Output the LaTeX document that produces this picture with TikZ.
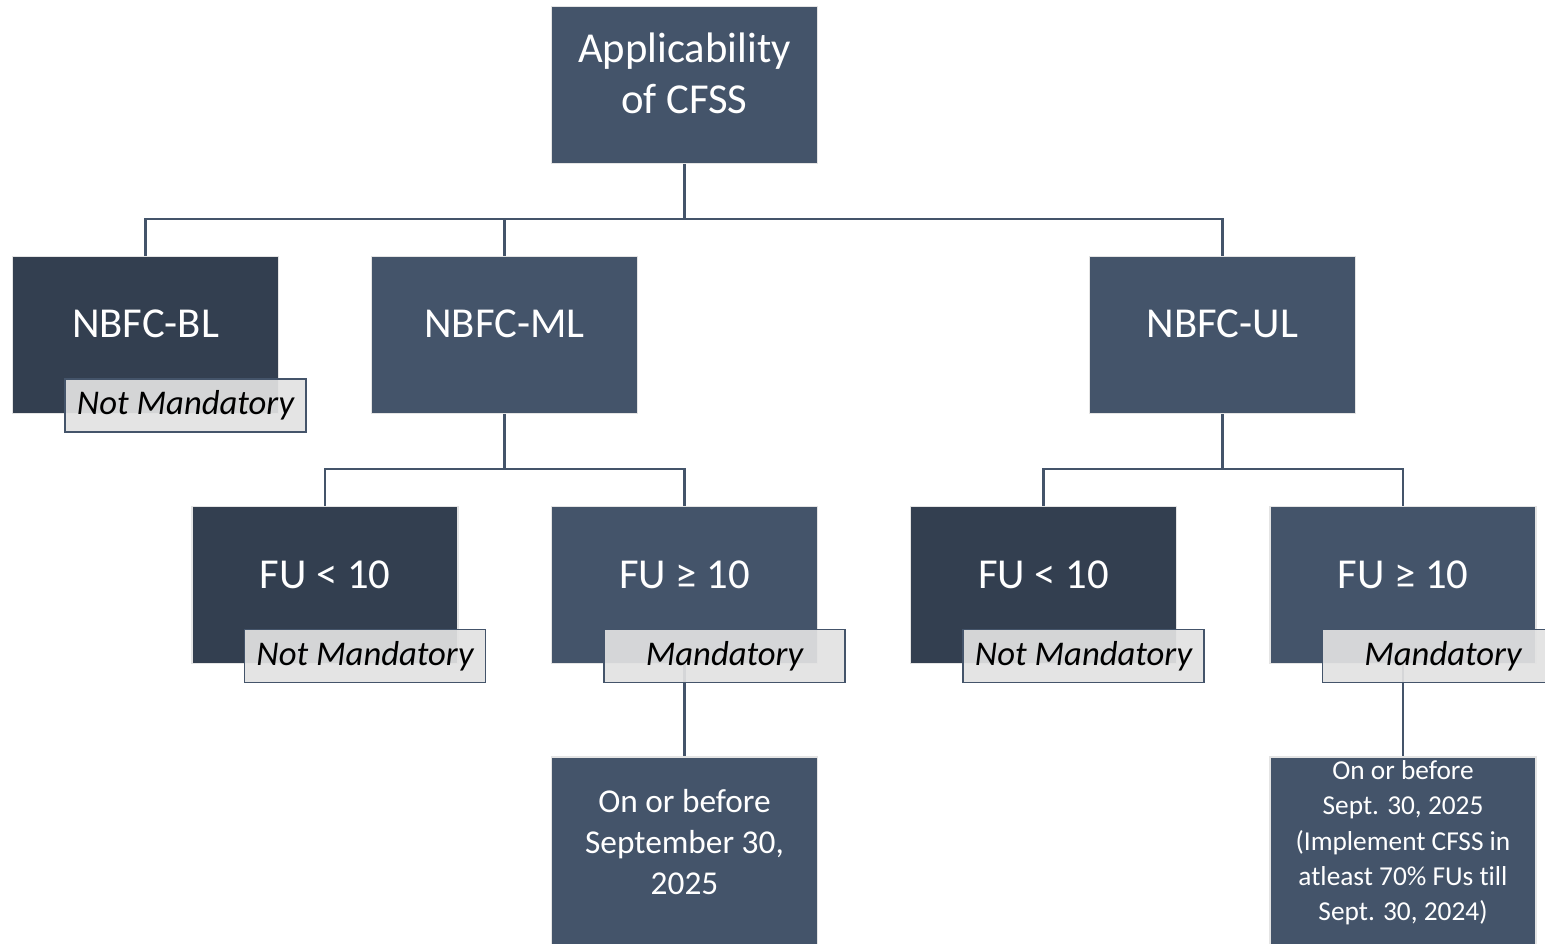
\documentclass[tikz,border=0pt]{standalone}
\usepackage{fontspec}
\setmainfont{Carlito}[Ligatures=NoCommon]
\definecolor{boxmid}{HTML}{44546A}
\definecolor{boxdark}{HTML}{333F50}
\definecolor{lblfill}{HTML}{E2E2E2}
\definecolor{boxedge}{HTML}{E4E4E4}
\begin{document}
\begin{tikzpicture}[x=0.75pt,y=-0.75pt,
  box/.style={draw=boxedge, line width=1.4pt, fill=boxmid, minimum width=199.5pt, minimum height=117.75pt, inner sep=0pt},
  dbox/.style={box, fill=boxdark},
  lbl/.style={draw=boxmid, line width=1.4pt, fill=lblfill, fill opacity=0.92, text opacity=1, minimum width=180.75pt, minimum height=39.75pt, inner sep=0pt, text=black, font=\itshape\fontsize{26}{30}\selectfont},
  txt/.style={text=white, align=center, font=\fontsize{32}{38.5}\selectfont},
  btxt/.style={text=white, align=center, font=\fontsize{25}{31}\selectfont},
  stxt/.style={text=white, align=center, font=\fontsize{20.5}{26.5}\selectfont},
  conn/.style={draw=boxmid, line width=1.8pt}]
\clip (0,0) rectangle (1545,943);
\fill[white] (0,0) rectangle (1545,943);
% boxes
\node[box] (top) at (684.5,85) {};
\node[dbox] (bl) at (145.5,335) {};
\node[box] (ml) at (504.5,335) {};
\node[box] (ul) at (1222.5,335) {};
\node[dbox] (f1) at (325,585) {};
\node[box] (f2) at (684.5,585) {};
\node[dbox] (f3) at (1043.5,585) {};
\node[box] (f4) at (1403,585) {};
\node[box, minimum height=165pt] (b1) at (684.5,867) {};
\node[box, minimum height=165pt] (b2) at (1403,867) {};
% connectors
\coordinate (bus0) at (684.5,219);
\coordinate (bus1) at (504.5,469);
\coordinate (bus2) at (1222.5,469);
\draw[conn] (top.south) -- (bus0);
\draw[conn] (bl.north) |- (bus0);
\draw[conn] (ml.north) |- (bus0);
\draw[conn] (ul.north) |- (bus0);
\draw[conn] (ml.south) -- (bus1);
\draw[conn] (f1.north) |- (bus1);
\draw[conn] (f2.north) |- (bus1);
\draw[conn] (ul.south) -- (bus2);
\draw[conn] (f3.north) |- (bus2);
\draw[conn] (f4.north) |- (bus2);
\draw[conn] (f2.south) -- (b1.north);
\draw[conn] (f4.south) -- (b2.north);
% labels
\node[lbl] (l1) at (185.5,405.5) {Not Mandatory};
\node[lbl] (l2) at (365,656) {Not Mandatory};
\node[lbl] (l3) at (724.5,656) {Mandatory};
\node[lbl] (l4) at (1083.5,656) {Not Mandatory};
\node[lbl] (l5) at (1443,656) {Mandatory};
% texts
\node[txt] (ttop) at (684.5,73) {Applicability\\of CFSS};
\node[txt] (tbl) at (145.5,324) {NBFC-BL};
\node[txt] (tml) at (504.5,324) {NBFC-ML};
\node[txt] (tul) at (1222.5,324) {NBFC-UL};
\node[txt] (tf1) at (325,574.5) {FU < 10};
\node[txt] (tf2) at (684.5,574.5) {FU ≥ 10};
\node[txt] (tf3) at (1043.5,574.5) {FU < 10};
\node[txt] (tf4) at (1403,574.5) {FU ≥ 10};
\node[btxt] (tb1) at (684.5,842) {On or before\\September 30,\\2025};
\node[stxt] (tb2) at (1403,843) {On or before\\Sept. 30, 2025\\(Implement CFSS in\\atleast 70\% FUs till\\Sept. 30, 2024)};
\end{tikzpicture}
\end{document}
